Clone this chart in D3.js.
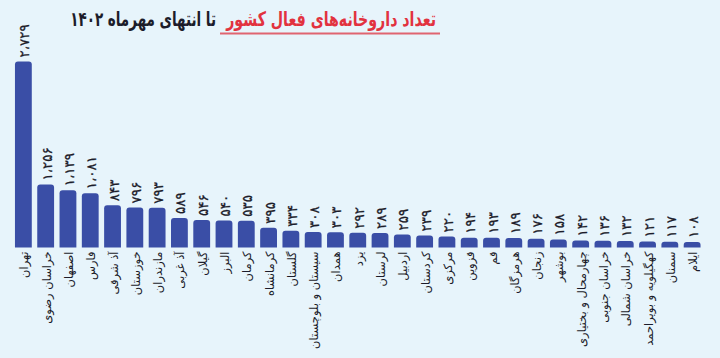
<!DOCTYPE html>
<html>
<head>
<meta charset="utf-8">
<script src="https://cdn.jsdelivr.net/npm/d3@7"></script>
<style>
  html, body { margin: 0; padding: 0; background: #e7f4fb; }
  svg { display: block; }
</style>
</head>
<body>
<svg id="chart" width="720" height="358"></svg>
<script>
'use strict';

var provinces = ['تهران', 'خراسان رضوی', 'اصفهان', 'فارس', 'آذ شرقی', 'خوزستان', 'مازندران',
    'آذ غربی', 'گیلان', 'البرز', 'کرمان', 'کرمانشاه', 'گلستان', 'سیستان و بلوچستان', 'همدان',
    'یزد', 'لرستان', 'اردبیل', 'کردستان', 'مرکزی', 'قزوین', 'قم', 'هرمزگان', 'زنجان', 'بوشهر',
    'چهارمحال و بختیاری', 'خراسان جنوبی', 'خراسان شمالی', 'کهگیلویه و بویراحمد', 'سمنان', 'ایلام'];

var pharmacies = [2729, 1256, 1139, 1081, 843, 796, 793, 589, 546, 540, 535, 395, 334, 308, 303,
    292, 289, 259, 239, 220, 194, 193, 189, 176, 158, 142, 136, 132, 121, 117, 108];

var titleRed = 'تعداد داروخانه‌های فعال کشور';
var titleRest = 'تا انتهای مهرماه ۱۴۰۲';

var palette = {
    bg: '#e7f4fb',
    bar: '#3a4ea6',
    text: '#1c1c2a',
    red: '#e2323f',
    line: '#e06470'
};

var faDigits = '۰۱۲۳۴۵۶۷۸۹';
function toFa(n) {
    return d3.format(',')(n).replace(/\d/g, function(c) { return faDigits[+c]; }).replace(/,/g, '،');
}

var svg = d3.select('#chart');
var font = '"DejaVu Sans", "Noto Sans", sans-serif';

svg.append('rect')
    .attr('width', 720)
    .attr('height', 358)
    .attr('fill', palette.bg);

var x = d3.scaleBand()
    .domain(provinces)
    .range([10.5, 705])
    .paddingInner(0.245)
    .paddingOuter(0.2);

// tehran's bar is drawn taller than the rest in the original, so two segments
var y = d3.scaleLinear()
    .domain([0, 1256, 2729])
    .range([247.5, 184.5, 61.5]);

var bars = svg.append('g').selectAll('g')
    .data(provinces)
    .join('g');

bars.append('path')
    .attr('fill', palette.bar)
    .attr('d', function(d, i) {
        var x0 = x(d), w = x.bandwidth(), top = y(pharmacies[i]), base = y(0), r = 3;
        return 'M' + x0 + ',' + base +
            'V' + (top + r) +
            'Q' + x0 + ',' + top + ' ' + (x0 + r) + ',' + top +
            'H' + (x0 + w - r) +
            'Q' + (x0 + w) + ',' + top + ' ' + (x0 + w) + ',' + (top + r) +
            'V' + base + 'Z';
    });

// value labels, rotated
bars.append('text')
    .attr('transform', function(d, i) {
        return 'translate(' + (x(d) + x.bandwidth() / 2 + 1) + ',' + (y(pharmacies[i]) - 4) + ') rotate(-90)';
    })
    .attr('dominant-baseline', 'central')
    .attr('text-anchor', 'start')
    .attr('font-family', font)
    .attr('font-size', 13.5)
    .attr('fill', palette.text)
    .attr('stroke', palette.text)
    .attr('stroke-width', 0.3)
    .text(function(d, i) { return toFa(pharmacies[i]); });

// category labels
bars.append('text')
    .attr('transform', function(d) {
        return 'translate(' + (x(d) + x.bandwidth() / 2 + 1) + ',' + (y(0) + 4) + ') rotate(-90)';
    })
    .attr('dominant-baseline', 'central')
    .attr('text-anchor', 'end')
    .attr('font-family', font)
    .attr('font-size', 11.5)
    .attr('fill', palette.text)
    .text(function(d) { return d; });

// title, each part squeezed horizontally to the width it has in the original
function squeeze(sel, right, base, width) {
    var w = sel.node().getComputedTextLength();
    var k = Math.min(1, width / w);
    sel.attr('transform', 'translate(' + right + ',' + base + ') scale(' + k + ',1)');
}

var title = svg.append('g');
var red = title.append('text')
    .attr('text-anchor', 'end')
    .attr('font-family', font)
    .attr('font-size', 20)
    .attr('font-weight', 'bold')
    .attr('fill', palette.red)
    .text(titleRed);
squeeze(red, 436, 26, 210);

var rest = title.append('text')
    .attr('text-anchor', 'end')
    .attr('font-family', font)
    .attr('font-size', 20)
    .attr('font-weight', 'bold')
    .attr('fill', palette.text)
    .text(titleRest);
squeeze(rest, 216, 26, 146);

title.append('line')
    .attr('x1', 220)
    .attr('x2', 440)
    .attr('y1', 33.5)
    .attr('y2', 33.5)
    .attr('stroke', palette.line)
    .attr('stroke-width', 2);
</script>
</body>
</html>
